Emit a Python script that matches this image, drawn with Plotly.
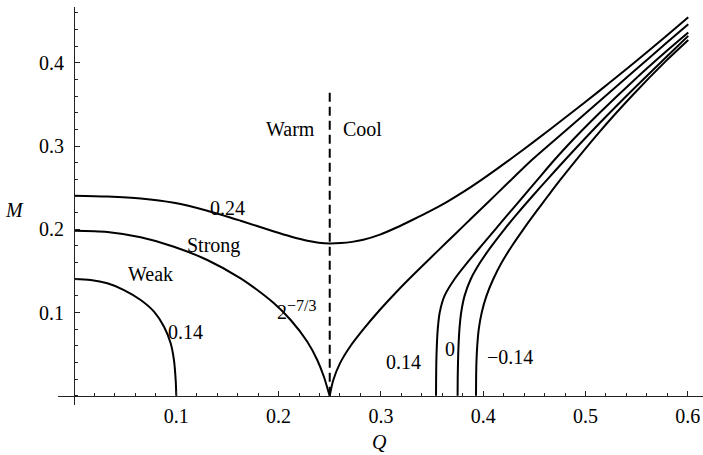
import plotly.graph_objects as go

# ---------------- data ----------------
weak_Q = [0, 0.0163, 0.0326, 0.0489, 0.0652, 0.0782, 0.0880, 0.0945, 0.0977, 0.0994, 0.1]
weak_M = [0.1403, 0.1391, 0.1351, 0.1270, 0.1150, 0.1010, 0.0829, 0.0630, 0.0429, 0.0189, 0]

strongL_Q = [0, 0.0326, 0.0652, 0.0977, 0.1303, 0.1629, 0.1792, 0.1955, 0.2118, 0.2281, 0.2378, 0.2443, 0.2492, 0.25]
strongL_M = [0.1983, 0.1968, 0.1904, 0.1791, 0.1631, 0.1411, 0.1270, 0.1110, 0.0910, 0.0649, 0.0429, 0.0228, 0.0029, 0]

strongR_Q = [0.25, 0.2535, 0.2600, 0.2698, 0.2828, 0.2991, 0.3154, 0.3317, 0.3480, 0.3643, 0.3806,
             0.3969, 0.4132, 0.4295, 0.4457, 0.4816, 0.5142, 0.5467, 0.5793, 0.6005]
strongR_M = [0, 0.0189, 0.0389, 0.0589, 0.0797, 0.1033, 0.1250, 0.1454, 0.1650, 0.1844, 0.2038,
             0.2232, 0.2426, 0.2620, 0.2813, 0.3197, 0.3545, 0.3893, 0.4241, 0.4464]

top_Q = [0, 0.0326, 0.0652, 0.0977, 0.1303, 0.1629, 0.1955, 0.2118, 0.2281, 0.2391, 0.25,
         0.2609, 0.2719, 0.2828, 0.2991, 0.3154, 0.3317, 0.3480, 0.3643, 0.3806, 0.3969, 0.4132,
         0.4295, 0.4490, 0.4816, 0.5142, 0.5467, 0.5793, 0.6005]
top_M = [0.2404, 0.2394, 0.2371, 0.2319, 0.2224, 0.2103, 0.1973, 0.1913, 0.1862, 0.1839, 0.1829,
         0.1834, 0.1849, 0.1874, 0.1936, 0.2022, 0.2118, 0.2218, 0.2327, 0.2449, 0.2582, 0.2723,
         0.2869, 0.3048, 0.3355, 0.3670, 0.3992, 0.4327, 0.4550]

c014_Q = [0.3539, 0.3540, 0.3542, 0.3547, 0.3556, 0.3575, 0.3622, 0.3719, 0.3845, 0.3982, 0.4119,
          0.4257, 0.4396, 0.4534, 0.4672, 0.4816, 0.5142, 0.5467, 0.5793, 0.6005]
c014_M = [0, 0.02, 0.04, 0.06, 0.08, 0.10, 0.12, 0.14, 0.16, 0.18, 0.20,
          0.22, 0.24, 0.26, 0.28, 0.2996, 0.3403, 0.3783, 0.4142, 0.4365]

c0_Q = [0.3750, 0.3751, 0.3754, 0.3759, 0.3768, 0.3785, 0.3818, 0.3878, 0.3970, 0.4083, 0.4208,
        0.4342, 0.4483, 0.4628, 0.4775, 0.5142, 0.5467, 0.5793, 0.6005]
c0_M = [0, 0.02, 0.04, 0.06, 0.08, 0.10, 0.12, 0.14, 0.16, 0.18, 0.20,
        0.22, 0.24, 0.26, 0.28, 0.3280, 0.3683, 0.4074, 0.4325]

cm014_Q = [0.3930, 0.3931, 0.3934, 0.3942, 0.3957, 0.3986, 0.4032, 0.4098, 0.4181, 0.4281, 0.4393,
           0.4511, 0.4633, 0.4757, 0.5142, 0.5467, 0.5793, 0.6005]
cm014_M = [0, 0.02, 0.04, 0.06, 0.08, 0.10, 0.12, 0.14, 0.16, 0.18, 0.20,
           0.22, 0.24, 0.26, 0.3178, 0.3620, 0.4030, 0.4276]

divider_Q = [0.25, 0.25]
divider_M = [0, 0.367]

x_ticks = [0.1, 0.2, 0.3, 0.4, 0.5, 0.6]
x_tick_text = ["0.1", "0.2", "0.3", "0.4", "0.5", "0.6"]
y_ticks = [0.1, 0.2, 0.3, 0.4]
y_tick_text = ["0.1", "0.2", "0.3", "0.4"]
x_minor = [round(0.02 * i, 2) for i in range(0, 31)]
y_minor = [round(0.02 * i, 2) for i in range(0, 24)]

label_text = ["Warm", "Cool", "0.24", "Strong", "Weak", "0.14", "0.14", "0", "−0.14"]
label_Q = [0.2119, 0.282, 0.150, 0.136, 0.075, 0.109, 0.322, 0.368, 0.4262]
label_M = [0.3210, 0.3200, 0.2260, 0.1800, 0.1460, 0.0762, 0.0401, 0.0560, 0.0469]

FONT = "Liberation Serif"

fig = go.Figure()
line_style = dict(color="black", width=2, shape="spline", smoothing=0.8)
for qs, ms in [(weak_Q, weak_M), (strongL_Q, strongL_M), (strongR_Q, strongR_M), (top_Q, top_M),
               (c014_Q, c014_M), (c0_Q, c0_M), (cm014_Q, cm014_M)]:
    fig.add_trace(go.Scatter(x=qs, y=ms, mode="lines", line=line_style, hoverinfo="skip"))

fig.add_trace(go.Scatter(x=divider_Q, y=divider_M, mode="lines",
                         line=dict(color="black", width=2, dash="9px,5px"), hoverinfo="skip"))

annotations = []
for t, q, m in zip(label_text, label_Q, label_M):
    annotations.append(dict(x=q, y=m, xref="x", yref="y", text=t, showarrow=False,
                            xanchor="center", yanchor="middle",
                            font=dict(family=FONT, size=20, color="black")))
annotations.append(dict(x=0.1965, y=0.103, xref="x", yref="y",
                        text="2<sup><span style='font-size:16px'>−7/3</span></sup>",
                        showarrow=False, xanchor="left", yanchor="middle",
                        font=dict(family=FONT, size=20, color="black")))
annotations.append(dict(x=-0.0667, y=0.223, xref="paper", yref="y", text="<i>M</i>",
                        showarrow=False, xanchor="center", yanchor="middle",
                        font=dict(family=FONT, size=20, color="black")))
annotations.append(dict(x=0.299, y=-0.093, xref="x", yref="paper", text="<i>Q</i>",
                        showarrow=False, xanchor="center", yanchor="middle",
                        font=dict(family=FONT, size=20, color="black")))

fig.update_layout(
    width=703, height=455,
    margin=dict(l=58, r=0, t=7, b=50),
    paper_bgcolor="white", plot_bgcolor="white",
    showlegend=False,
    font=dict(family=FONT, size=20, color="black"),
    annotations=annotations,
    xaxis=dict(range=[-0.01564, 0.6149], showgrid=False, zeroline=False,
               showline=True, linecolor="#222", linewidth=1,
               anchor="free", position=0.02337,
               tickmode="array", tickvals=x_ticks, ticktext=x_tick_text,
               ticks="inside", ticklen=5, tickwidth=1, tickcolor="#222",
               ticklabelstandoff=2,
               tickfont=dict(family=FONT, size=20, color="black"),
               minor=dict(tickmode="array", tickvals=x_minor, ticks="inside", ticklen=3,
                          tickwidth=1, tickcolor="#222", showgrid=False)),
    yaxis=dict(range=[-0.01118, 0.4672], showgrid=False, zeroline=False,
               showline=True, linecolor="#222", linewidth=1,
               anchor="free", position=0.0248,
               tickmode="array", tickvals=y_ticks, ticktext=y_tick_text,
               ticks="inside", ticklen=5, tickwidth=1, tickcolor="#222",
               ticklabelstandoff=6,
               tickfont=dict(family=FONT, size=20, color="black"),
               minor=dict(tickmode="array", tickvals=y_minor, ticks="inside", ticklen=3,
                          tickwidth=1, tickcolor="#222", showgrid=False)),
)

fig.write_html("out.html")
